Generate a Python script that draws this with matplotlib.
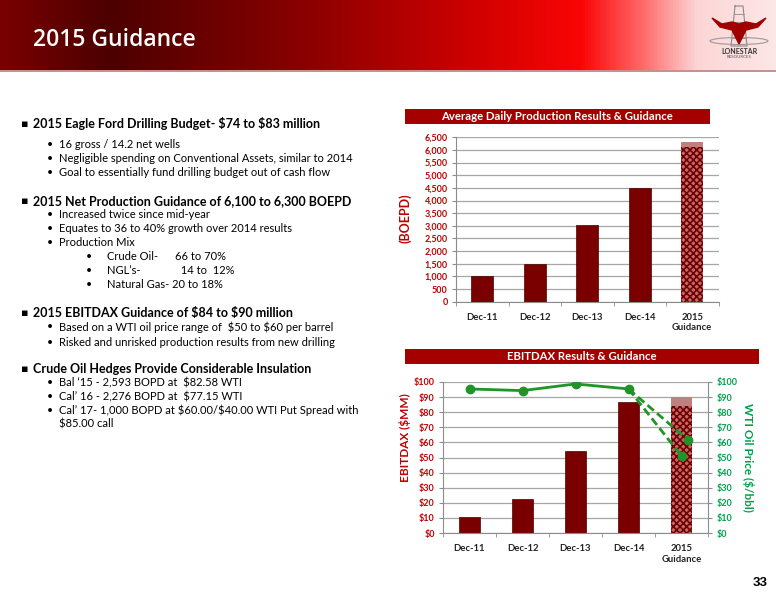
import numpy as np
import matplotlib
matplotlib.use('Agg')
import matplotlib.pyplot as plt
from matplotlib.colors import LinearSegmentedColormap
from matplotlib.patches import Polygon, Ellipse, Rectangle

plt.rcParams['font.family'] = ['Lato', 'DejaVu Sans']
plt.rcParams['hatch.linewidth'] = 1.2

# data
categories = ['Dec-11', 'Dec-12', 'Dec-13', 'Dec-14', '2015\nGuidance']
production = [1000, 1500, 3050, 4480]
production_2015 = [6100, 6300]          # low / high guidance (BOEPD)
ebitdax = [10.4, 22.7, 54.5, 87.0]
ebitdax_2015 = [84, 90]                 # low / high guidance ($MM)
wti = [95.4, 94.3, 98.7, 95.4]
wti_2015 = [61.5, 51.0]                 # two price cases for 2015

prod_ticks = list(range(0, 6501, 500))
money_ticks = list(range(0, 101, 10))

RED = '#c00000'
BAR = '#7a0000'
GREEN_TXT = '#00a04a'
GREEN_LINE = '#1f9427'
BAND = '#a50000'

W, H = 776, 600
fig = plt.figure(figsize=(W / 100, H / 100), dpi=100)

# page-level axes in pixel coordinates
bg = fig.add_axes([0, 0, 1, 1])
bg.set_xlim(0, W)
bg.set_ylim(H, 0)
bg.axis('off')

# header gradient
stops = [(0.0, '#7a0000'), (0.14, '#4c0000'), (0.40, '#8c0000'),
         (0.60, '#cc0000'), (0.75, '#fa0505'), (0.83, '#ff6a6a'),
         (0.90, '#fcd6d6'), (1.0, '#fde6e6')]
cmap = LinearSegmentedColormap.from_list('hdr', stops)
grad = np.linspace(0, 1, 512).reshape(1, -1)
bg.imshow(grad, cmap=cmap, extent=[0, W, 70, 0], aspect='auto', zorder=0)
bg.add_patch(Rectangle((0, 70), W, 2, color='#c89090', lw=0, zorder=1))
bg.text(33, 40, '2015 Guidance', color='white', fontsize=16.5, fontweight='semibold',
        va='center', ha='left', family=['Open Sans', 'DejaVu Sans'])

# logo (simplified longhorn + derrick)
bg.plot([735, 731, 747, 743, 735], [6, 46, 46, 6, 6], color='#8a8a8a', lw=0.8, zorder=2)
for yy in (14, 22, 30, 38):
    bg.plot([735 - (yy - 6) * 0.1, 743 + (yy - 6) * 0.1], [yy, yy], color='#8a8a8a', lw=0.6, zorder=2)
horn = [(712, 18), (722, 24), (732, 22), (739, 24), (746, 22), (756, 24), (766, 18),
        (758, 27), (746, 30), (741, 40), (739, 44), (737, 40), (732, 30), (720, 27)]
bg.add_patch(Polygon(horn, closed=True, color='#a00000', zorder=3))
bg.add_patch(Ellipse((739, 41), 58, 7, fill=False, ec='#9a9a9a', lw=0.8, zorder=2))
bg.text(739, 51, 'LONESTAR', fontsize=5, fontweight='bold', color='#333333', ha='center', va='center')
bg.text(739, 57, 'RESOURCES', fontsize=3.2, color='#555555', ha='center', va='center')

# left text block
heads = [
    (124, '2015 Eagle Ford Drilling Budget- \\$74 to \\$83 million'),
    (201, '2015 Net Production Guidance of 6,100 to 6,300 BOEPD'),
    (313, '2015 EBITDAX Guidance of \\$84 to \\$90 million'),
    (369, 'Crude Oil Hedges Provide Considerable Insulation'),
]
for y, t in heads:
    bg.text(21, y, '\u25aa', fontsize=8, color='black', va='center', family='DejaVu Sans')
    bg.text(33, y, t, fontsize=9.0, fontweight='bold', color='black', va='center')

subs = [
    (144, '16 gross / 14.2 net wells'),
    (158, 'Negligible spending on Conventional Assets, similar to 2014'),
    (173, 'Goal to essentially fund drilling budget out of cash flow'),
    (214, 'Increased twice since mid-year'),
    (228, 'Equates to 36 to 40% growth over 2014 results'),
    (242, 'Production Mix'),
    (327, 'Based on a WTI oil price range of  \\$50 to \\$60 per barrel'),
    (342, 'Risked and unrisked production results from new drilling'),
    (383, 'Bal \u201815 - 2,593 BOPD at  \\$82.58 WTI'),
    (397, 'Cal\u2019 16 - 2,276 BOPD at  \\$77.15 WTI'),
    (410, 'Cal\u2019 17- 1,000 BOPD at \\$60.00/\\$40.00 WTI Put Spread with'),
]
for y, t in subs:
    bg.text(47, y, '\u2022', fontsize=7.5, color='black', va='center')
    bg.text(59, y, t, fontsize=8.0, color='black', va='center')
bg.text(59, 424, '$85.00 call', fontsize=8.0, color='black', va='center')

mix = [(257, 'Crude Oil-', '66 to 70%'), (270, 'NGL\u2019s-', '  14 to  12%'),
       (284, 'Natural Gas- 20 to 18%', '')]
for y, a, b in mix:
    bg.text(86, y, '\u2022', fontsize=7.5, color='black', va='center')
    bg.text(107, y, a, fontsize=8.0, color='black', va='center')
    if b:
        bg.text(175, y, b, fontsize=8.0, color='black', va='center')

# chart title bands
bg.add_patch(Rectangle((405, 109), 305, 15, color=BAND, lw=0))
bg.text(557, 116.5, 'Average Daily Production Results & Guidance', color='white',
        fontsize=8.2, fontweight='bold', ha='center', va='center')
bg.add_patch(Rectangle((405, 349), 354, 15, color=BAND, lw=0))
bg.text(582, 356.5, 'EBITDAX Results & Guidance', color='white',
        fontsize=8.2, fontweight='bold', ha='center', va='center')

bg.text(768, 583, '33', fontsize=9.5, fontweight='bold', ha='right', va='center',
        family=['Liberation Sans', 'DejaVu Sans'])

x = np.arange(len(categories))
bw = 0.41


def style_axis(ax, grid_color='#a6a6a6'):
    ax.set_xlim(-0.5, 4.5)
    ax.grid(axis='y', color=grid_color, lw=0.9)
    ax.set_axisbelow(True)
    for s in ('top', 'right'):
        ax.spines[s].set_visible(False)
    ax.spines['left'].set_color('#8c8c8c')
    ax.spines['bottom'].set_color('#8c8c8c')
    ax.set_xticks(x)
    ax.set_xticklabels(categories, fontsize=6.8, fontweight='bold', color='#222222')
    ax.set_xticks(np.arange(-0.5, 5.0, 1.0), minor=True)
    ax.tick_params(axis='x', which='major', length=0, pad=8)
    ax.tick_params(axis='x', which='minor', length=3, color='#8c8c8c')
    ax.tick_params(axis='y', length=3, color='#8c8c8c', pad=3)


def guidance_bar(ax, xpos, low, high):
    ax.bar(xpos, low, width=bw, color='#c46a6a', edgecolor='#700000',
           hatch='xxxxx', lw=0)
    ax.bar(xpos, high - low, bottom=low, width=bw, color='#bf8080', lw=0)


# production chart
ax1 = fig.add_axes([456 / W, 1 - 301.7 / H, 262.5 / W, 164.4 / H])
style_axis(ax1)
ax1.bar(x[:4], production, width=bw, color=BAR, edgecolor='#4a0000', lw=0.5)
guidance_bar(ax1, x[4], *production_2015)
ax1.set_ylim(0, 6500)
ax1.set_yticks(prod_ticks)
ax1.set_yticklabels([f'{v:,}' for v in prod_ticks], fontsize=6.5, fontweight='bold', color=RED)
bg.text(405, 218, '(BOEPD)', rotation=90, fontsize=9, fontweight='bold', color=RED,
        ha='center', va='center')

# EBITDAX chart
ax2 = fig.add_axes([443 / W, 1 - 533 / H, 265 / W, 151 / H])
style_axis(ax2)
ax2.bar(x[:4], ebitdax, width=bw, color=BAR, edgecolor='#4a0000', lw=0.5)
guidance_bar(ax2, x[4], *ebitdax_2015)
ax2.set_ylim(0, 100)
ax2.set_yticks(money_ticks)
ax2.set_yticklabels([f'${v}' for v in money_ticks], fontsize=6.5, fontweight='bold', color=RED)
bg.text(405, 438, 'EBITDAX (\\$MM)', rotation=90, fontsize=8.5, fontweight='bold', color=RED,
        ha='center', va='center')

ax3 = ax2.twinx()
ax3.set_ylim(0, 100)
ax3.set_yticks(money_ticks)
ax3.set_yticklabels([f'${v}' for v in money_ticks], fontsize=6.5, fontweight='bold', color=GREEN_TXT)
for s in ('top', 'left', 'bottom'):
    ax3.spines[s].set_visible(False)
ax3.spines['right'].set_color('#8c8c8c')
ax3.tick_params(axis='y', length=3, color='#8c8c8c', pad=3)
ax3.plot(x[:4], wti, color=GREEN_LINE, lw=2, marker='o', ms=6, zorder=5)
ax3.plot([x[3], x[4] + 0.13], [wti[3], wti_2015[0]], color=GREEN_LINE, lw=2, ls=(0, (3, 1.5)))
ax3.plot([x[3], x[4]], [wti[3], wti_2015[1]], color=GREEN_LINE, lw=2, ls=(0, (3, 1.5)))
ax3.plot([x[4] + 0.13, x[4]], wti_2015, ls='none', marker='o', ms=6, color=GREEN_LINE)
bg.text(748, 457, 'WTI Oil Price (\\$/bbl)', rotation=-90, fontsize=8.5, fontweight='bold',
        color=GREEN_TXT, ha='center', va='center')

fig.savefig('out.png', dpi=100)
